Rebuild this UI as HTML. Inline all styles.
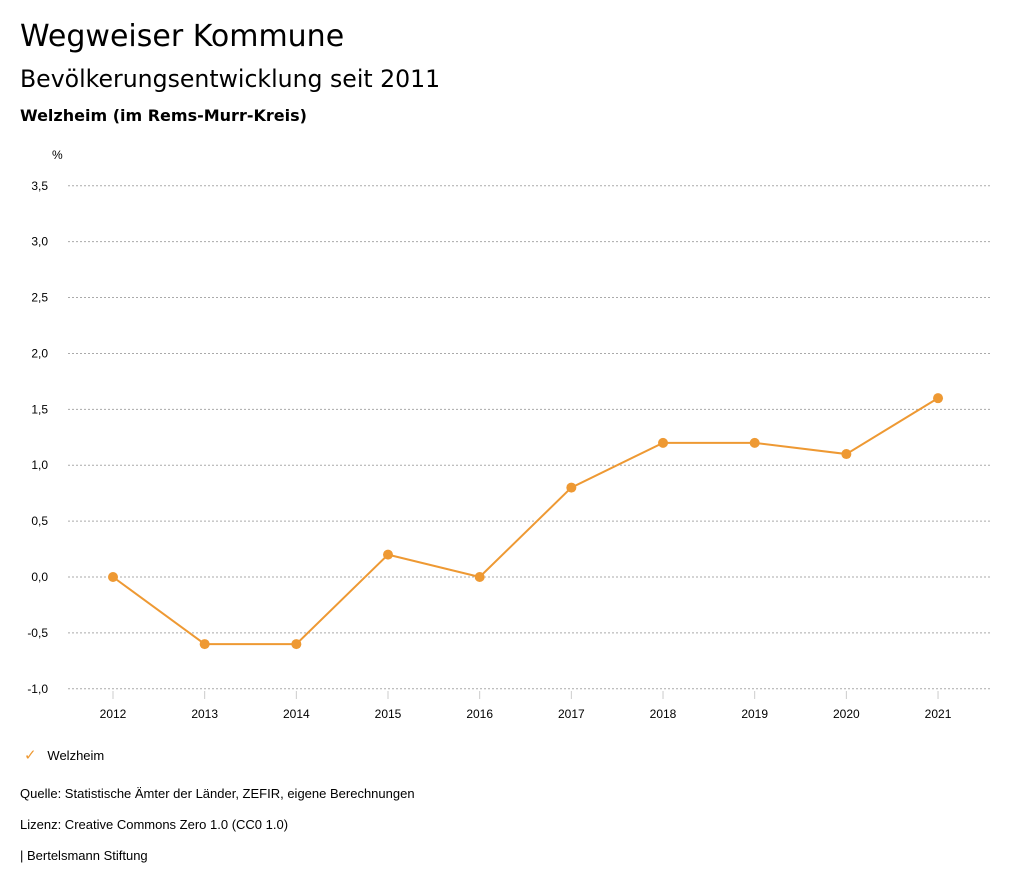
<!DOCTYPE html>
<html><head><meta charset="utf-8"><style>
body{margin:0;width:1024px;height:888px;background:#fff;font-family:"Liberation Sans",sans-serif;color:#000;overflow:hidden}
.t{position:absolute;white-space:nowrap}
</style></head><body>
<div class="t" style="left:20px;top:19px;font-size:30px;font-family:'DejaVu Sans',sans-serif">Wegweiser Kommune</div>
<div class="t" style="left:20px;top:65px;font-size:23.6px;font-family:'DejaVu Sans',sans-serif">Bevölkerungsentwicklung seit 2011</div>
<div class="t" style="left:20px;top:106px;font-size:16px;font-weight:bold;font-family:'DejaVu Sans',sans-serif">Welzheim (im Rems-Murr-Kreis)</div>
<svg id="chart" width="1024" height="888" style="position:absolute;left:0;top:0" font-family="Liberation Sans, sans-serif"></svg>
<div class="t" style="left:24px;top:746px;font-size:13px"><span style="color:#ee9933;font-size:15px">✓</span>&nbsp;&nbsp;&nbsp;Welzheim</div>
<div class="t" style="left:20px;top:786px;font-size:13px">Quelle: Statistische Ämter der Länder, ZEFIR, eigene Berechnungen</div>
<div class="t" style="left:20px;top:817px;font-size:13px">Lizenz: Creative Commons Zero 1.0 (CC0 1.0)</div>
<div class="t" style="left:20px;top:848px;font-size:13px">| Bertelsmann Stiftung</div>
<script>
const years=["2012","2013","2014","2015","2016","2017","2018","2019","2020","2021"];
const values=[0,-0.6,-0.6,0.2,0,0.8,1.2,1.2,1.1,1.6];
const yTicks=[-1,-0.5,0,0.5,1,1.5,2,2.5,3,3.5];
const svg=document.getElementById('chart');
const NS='http://www.w3.org/2000/svg';
const y=v=>577-v*111.78;
const x=i=>113+i*91.67;
function mk(t,a){const e=document.createElementNS(NS,t);for(const k in a)e.setAttribute(k,a[k]);svg.appendChild(e);return e;}
let u=mk('text',{x:52,y:159,'font-size':12});u.textContent='%';


yTicks.forEach(v=>{
 const l=mk('line',{x1:68,x2:990,y1:y(v),y2:y(v),stroke:'#aaa','stroke-dasharray':'2,2'});
 
 
 const t=mk('text',{x:48,y:y(v)+4,'text-anchor':'end','font-size':12});
 t.textContent=v.toFixed(1).replace('.',',');
 
 
});
years.forEach((yr,i)=>{
 const l=mk('line',{x1:x(i),x2:x(i),y1:691,y2:699,stroke:'#ccc'});
 
 
 const t=mk('text',{x:x(i),y:718,'text-anchor':'middle','font-size':12});
 t.textContent=yr;
 
 
});
const p=mk('polyline',{points:values.map((v,i)=>x(i)+','+y(v)).join(' '),fill:'none',stroke:'#ee9933','stroke-width':2});


values.forEach((v,i)=>{
 const c=mk('circle',{cx:x(i),cy:y(v),r:5,fill:'#ee9933'});
 
 
});
</script>
</body></html>
